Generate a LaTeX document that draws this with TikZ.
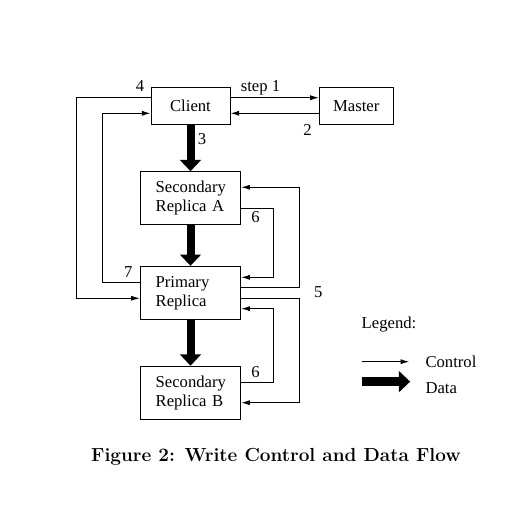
\documentclass[tikz,border=0pt]{standalone}
\usepackage{fontspec}
\newfontfamily\figfont{Liberation Serif}
\usetikzlibrary{arrows.meta}

\begin{document}
\begin{tikzpicture}[x=0.75pt,y=-0.75pt,line width=0.7pt,
  every node/.style={font=\figfont\fontsize{12.5}{14.25}\selectfont},
  smallbox/.style={draw,minimum height=27.5pt,inner sep=0pt},
  replica/.style={draw,align=left,text width=52.3pt,inner xsep=11.5pt,minimum height=39.75pt},
  ctrlflow/.style={-{Latex[length=6.5pt,width=3.8pt]}},
  dataflow/.style={-{Triangle[length=8.5pt,width=15.5pt]},line width=6pt}]
  \useasboundingbox (0,0) rectangle (504,511);

  \node[smallbox,minimum width=59.25pt] (client) at (190.5,105.7) {Client};
  \node[smallbox,minimum width=55.5pt] (master) at (356.3,105.7) {Master};
  \node[replica] (secA) at (190.5,198.2) {Secondary\\Replica A};
  \node[replica] (primary) at (190.5,292.8) {Primary\\Replica};
  \node[replica] (secB) at (190.5,392.7) {Secondary\\Replica B};

  \draw[ctrlflow] ([yshift=6pt]client.east) -- ([yshift=6pt]master.west);
  \draw[ctrlflow] ([yshift=-5.7pt]master.west) -- ([yshift=-5.7pt]client.east);
  \draw[ctrlflow] ([yshift=6pt]client.west) -- ++(-55.7pt,0) |- ([yshift=-4.1pt]primary.west);
  \draw[ctrlflow] ([yshift=8.1pt]primary.west) -- ++(-27.8pt,0) |- ([yshift=-5.7pt]client.west);
  \draw[ctrlflow] ([yshift=3.8pt]primary.east) -- ++(43.4pt,0) |- ([yshift=8.2pt]secA.east);
  \draw[ctrlflow] ([yshift=-4.1pt]primary.east) -- ++(43.4pt,0) |- ([yshift=-7.5pt]secB.east);
  \draw[ctrlflow] ([yshift=-7.6pt]secA.east) -- ++(23.9pt,0) |- ([yshift=11.6pt]primary.east);
  \draw[ctrlflow] ([yshift=7.8pt]secB.east) -- ++(23.9pt,0) |- ([yshift=-11.9pt]primary.east);

  \draw[dataflow] (client) -- (secA);
  \draw[dataflow] (secA) -- (primary);
  \draw[dataflow] (primary) -- (secB);

  \node (lbl1) at (260.5,88) {step 1};
  \node (lbl2) at (307.5,130) {2};
  \node (lbl3) at (202,139.5) {3};
  \node (lbl4) at (140,86) {4};
  \node (lbl5) at (318.3,292.3) {5};
  \node (lbl6a) at (255.5,216.7) {6};
  \node (lbl6b) at (255.5,371.7) {6};
  \node (lbl7) at (128.3,271.7) {7};

  \node (legend) at (389,325) {Legend:};
  \node[anchor=west] (lgctrl) at (420.6,361.7) {Control};
  \node[anchor=west] (lgdata) at (420.6,388.3) {Data};
  \draw[ctrlflow] ([xshift=-44.2pt]lgctrl.west) -- ([xshift=-8.5pt]lgctrl.west);
  \draw[dataflow,line width=6.5pt] ([xshift=-44.2pt,yshift=5pt]lgdata.west) -- ([xshift=-7.8pt,yshift=5pt]lgdata.west);

  \node[font=\rmfamily\bfseries\fontsize{14.2}{17}\selectfont] (caption) at (276,457)
    {Figure 2: Write Control and Data Flow};
\end{tikzpicture}
\end{document}
